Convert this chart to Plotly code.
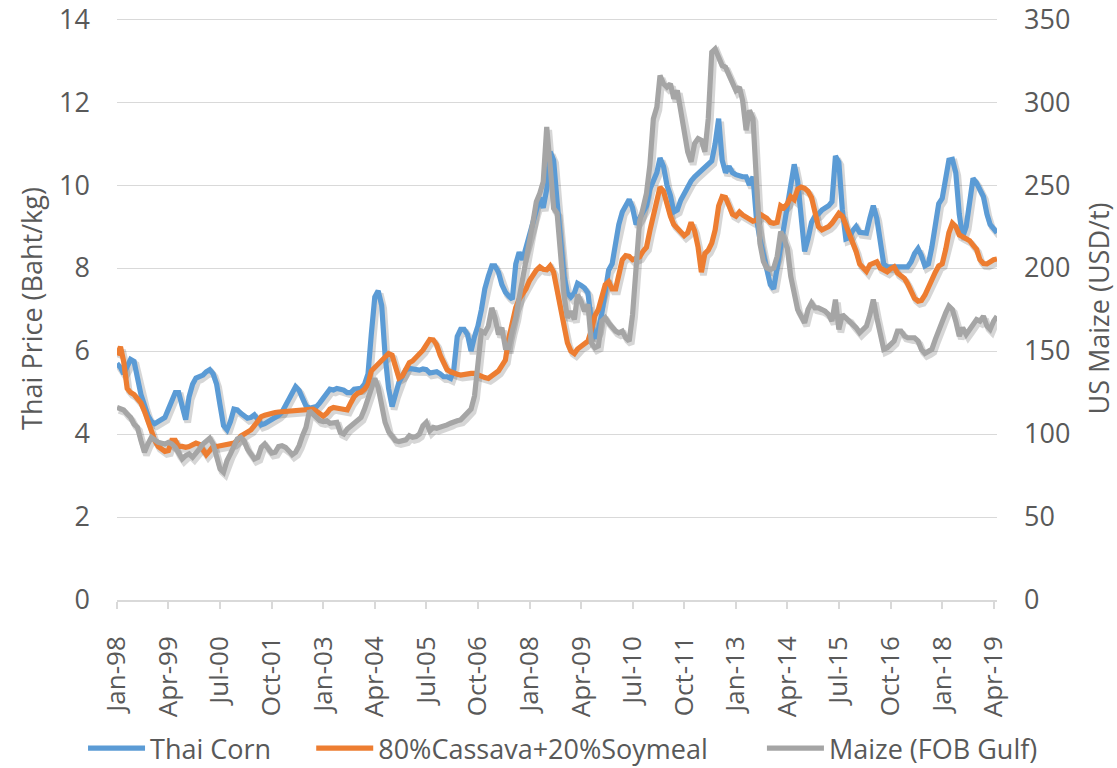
import pandas as pd
import plotly.graph_objects as go

# ---------------- data (monthly, Jan-1998 .. May-2019) ----------------
START_MONTH = "1998-01-01"

THAI_CORN = [
    5.7, 5.6, 5.45, 5.6, 5.8, 5.75, 5.35, 4.95, 4.7, 4.45, 4.3, 4.25,          # 1998
    4.3, 4.35, 4.4, 4.6, 4.8, 5.0, 5.0, 4.7, 4.35, 4.9, 5.2, 5.35,              # 1999
    5.38, 5.42, 5.5, 5.55, 5.45, 5.2, 4.7, 4.2, 4.1, 4.3, 4.6, 4.58,            # 2000
    4.5, 4.45, 4.38, 4.4, 4.46, 4.35, 4.22, 4.25, 4.3, 4.33, 4.38, 4.45,        # 2001
    4.53, 4.68, 4.82, 5.0, 5.14, 5.05, 4.88, 4.68, 4.62, 4.63, 4.66, 4.75,      # 2002
    4.88, 5.02, 5.08, 5.06, 5.1, 5.08, 5.06, 5.0, 5.0, 5.08, 5.09, 5.1,         # 2003
    5.2, 5.45, 6.4, 7.3, 7.45, 7.1, 5.9, 5.1, 4.66, 4.95, 5.25, 5.4,            # 2004
    5.55, 5.58, 5.56, 5.55, 5.54, 5.57, 5.55, 5.47, 5.47, 5.5, 5.45, 5.38,      # 2005
    5.38, 5.34, 5.55, 6.35, 6.52, 6.52, 6.4, 6.0, 6.35, 6.6, 7.0, 7.5,          # 2006
    7.8, 8.05, 8.05, 7.9, 7.6, 7.42, 7.32, 7.25, 8.1, 8.38, 8.2, 8.5,           # 2007
    8.9, 9.2, 9.5, 9.7, 9.45, 9.9, 10.8, 10.6, 9.6, 8.6, 7.8, 7.4,              # 2008
    7.3, 7.4, 7.63, 7.58, 7.52, 7.4, 6.7, 6.3, 6.5, 6.9, 7.5, 7.95,             # 2009
    8.1, 8.6, 9.05, 9.35, 9.48, 9.65, 9.45, 9.05, 9.2, 9.35, 9.5, 9.9,          # 2010
    10.1, 10.3, 10.65, 10.45, 10.0, 9.75, 9.35, 9.4, 9.64, 9.8, 9.96, 10.1,     # 2011
    10.2, 10.28, 10.36, 10.45, 10.52, 10.58, 11.0, 11.6, 10.6, 10.3, 10.45, 10.3,  # 2012
    10.25, 10.22, 10.2, 10.2, 10.0, 10.2, 9.2, 8.7, 8.3, 7.95, 7.6, 7.5,        # 2013
    8.0, 8.55, 9.0, 9.6, 10.1, 10.5, 10.1, 9.25, 8.4, 8.7, 9.1, 9.25,           # 2014
    9.3, 9.4, 9.45, 9.5, 9.6, 10.7, 10.55, 9.4, 8.7, 8.73, 8.9, 9.0,            # 2015
    8.86, 8.84, 8.84, 9.2, 9.5, 9.2, 8.6, 8.1, 8.03, 8.03, 8.03, 8.03,          # 2016
    8.03, 8.03, 8.03, 8.15, 8.35, 8.47, 8.3, 8.05, 8.1, 8.5, 9.0, 9.55,         # 2017
    9.68, 10.2, 10.6, 10.62, 10.3, 9.3, 8.75, 9.0, 9.7, 10.16, 10.05, 9.9,      # 2018
    9.72, 9.3, 9.05, 8.95, 8.85,                                                # 2019
]

CASSAVA_SOY = [
    5.9, 6.1, 5.75, 5.1, 5.0, 4.95, 4.85, 4.75, 4.55, 4.3, 4.0, 3.85,           # 1998
    3.7, 3.65, 3.58, 3.6, 3.85, 3.85, 3.7, 3.7, 3.68, 3.7, 3.75, 3.78,          # 1999
    3.75, 3.6, 3.5, 3.6, 3.7, 3.7, 3.72, 3.73, 3.75, 3.76, 3.78, 3.85,          # 2000
    3.95, 4.0, 4.05, 4.1, 4.2, 4.3, 4.42, 4.45, 4.48, 4.5, 4.52, 4.53,          # 2001
    4.54, 4.55, 4.56, 4.56, 4.57, 4.58, 4.59, 4.6, 4.62, 4.6, 4.55, 4.47,       # 2002
    4.43, 4.5, 4.6, 4.64, 4.63, 4.62, 4.6, 4.58, 4.75, 4.9, 4.98, 5.01,         # 2003
    5.08, 5.2, 5.52, 5.6, 5.68, 5.78, 5.86, 5.94, 5.9, 5.62, 5.35, 5.4,         # 2004
    5.6, 5.72, 5.76, 5.84, 5.92, 6.02, 6.15, 6.28, 6.27, 6.15, 5.9, 5.7,        # 2005
    5.55, 5.5, 5.46, 5.44, 5.42, 5.44, 5.46, 5.46, 5.46, 5.42, 5.38, 5.36,      # 2006
    5.34, 5.4, 5.46, 5.52, 5.65, 5.78, 6.3, 6.7, 7.05, 7.25, 7.38, 7.5,         # 2007
    7.7, 7.85, 7.95, 8.03, 7.97, 7.96, 8.05, 7.9, 7.45, 6.95, 6.6, 6.2,         # 2008
    6.0, 5.94, 6.05, 6.12, 6.16, 6.24, 6.5, 6.85, 7.0, 7.3, 7.6, 7.67,          # 2009
    7.5, 7.5, 7.9, 8.2, 8.3, 8.28, 8.2, 8.22, 8.27, 8.4, 8.5, 8.9,              # 2010
    9.25, 9.55, 9.95, 9.85, 9.5, 9.25, 9.05, 8.95, 8.84, 8.78, 8.85, 9.1,       # 2011
    8.9, 8.5, 7.9, 8.35, 8.43, 8.6, 8.92, 9.5, 9.72, 9.7, 9.5, 9.3,             # 2012
    9.25, 9.35, 9.28, 9.24, 9.17, 9.13, 9.15, 9.3, 9.25, 9.2, 9.1, 9.08,        # 2013
    9.1, 9.5, 9.45, 9.55, 9.72, 9.65, 9.9, 9.95, 9.92, 9.85, 9.7, 9.3,          # 2014
    9.0, 8.92, 8.95, 9.0, 9.08, 9.2, 9.32, 9.25, 9.05, 8.85, 8.6, 8.4,          # 2015
    8.1, 8.0, 7.92, 8.08, 8.13, 8.15, 8.0, 7.95, 7.91, 7.98, 8.03, 7.88,        # 2016
    7.8, 7.75, 7.62, 7.45, 7.27, 7.2, 7.22, 7.35, 7.55, 7.75, 7.9, 8.05,        # 2017
    8.1, 8.45, 8.85, 9.08, 9.0, 8.8, 8.75, 8.72, 8.66, 8.55, 8.45, 8.2,         # 2018
    8.11, 8.1, 8.15, 8.2, 8.22,                                                 # 2019
]

MAIZE_FOB_GULF = [
    116, 115, 114.5, 112, 110, 106, 104, 96, 89, 94, 98, 96.5,                  # 1998
    95, 94.5, 94, 95, 94, 92, 88, 85, 87, 88, 86, 88,                           # 1999
    91, 94, 96, 97.5, 94, 87, 79, 77, 84, 88, 92, 97,                           # 2000
    98, 95.5, 91, 88, 85, 86, 92, 94, 91, 88.5, 89, 92.5,                       # 2001
    93, 92, 90, 87.5, 89, 93, 99, 104, 114, 112, 109.5, 108,                    # 2002
    107.5, 108, 106.5, 107, 107, 101, 100, 103, 105, 106.5, 108, 110,           # 2003
    115, 122, 129, 133.5, 128, 119, 107, 101.5, 99, 96, 95.5, 96,               # 2004
    96.5, 99, 98, 98.5, 100, 105, 107, 102, 104, 103.5, 104, 105,               # 2005
    105.5, 106.5, 107.5, 108, 108.5, 110.5, 112.5, 115, 123, 142, 162, 161,     # 2006
    165, 176, 170, 160, 164, 152, 152, 162, 170, 182, 193, 203,                 # 2007
    213, 228, 240, 245, 252, 285, 262, 236, 233, 206, 184, 170,                 # 2008
    174, 169, 184, 180, 174, 178, 155, 152, 153, 168, 170, 167,                 # 2009
    164, 162, 161, 162, 158, 156, 172, 200, 228, 236, 245, 262,                 # 2010
    290, 297, 316, 311, 309, 311, 302, 307, 295, 283, 270, 264,                 # 2011
    275, 278, 277, 270, 290, 330, 332, 327, 322, 321, 316, 310,                 # 2012
    307, 309, 301, 283, 295, 290, 250, 215, 204, 200, 199, 200,                 # 2013
    207, 222, 218, 212, 195, 185, 175, 171, 167, 175, 179, 176,                 # 2014
    176, 175, 174, 172, 168, 181, 163, 172, 170, 169, 166, 164,                 # 2015
    161, 163, 165, 172, 181, 170, 160, 151, 152, 154, 156, 162,                 # 2016
    162, 159, 158, 158, 158, 156, 151, 148.6, 149.6, 151, 157, 163,             # 2017
    168, 173, 177, 175, 168, 159, 164, 160, 163, 166, 169, 168,                 # 2018
    171, 165, 163, 168, 171,                                                    # 2019
]

TICK_LABELS = ["Jan-98", "Apr-99", "Jul-00", "Oct-01", "Jan-03", "Apr-04",
               "Jul-05", "Oct-06", "Jan-08", "Apr-09", "Jul-10", "Oct-11",
               "Jan-13", "Apr-14", "Jul-15", "Oct-16", "Jan-18", "Apr-19"]

SERIES_NAMES = ["Thai Corn", "80%Cassava+20%Soymeal", "Maize (FOB Gulf)"]
SERIES_COLORS = ["#5B9BD5", "#ED7D31", "#A5A5A5"]

# ---------------- figure ----------------
months = pd.date_range(START_MONTH, periods=len(THAI_CORN), freq="MS")
tick_dates = pd.date_range(START_MONTH, periods=len(TICK_LABELS), freq="15MS")

TEXT = "#595959"
GRID = "#D9D9D9"
FONT = "Open Sans"
FS = 27
LW = 5.2

Y_MAX = 14.05                 # left axis (Baht/kg), 0..14 shown
Y2_MAX = 350 * Y_MAX / 14     # right axis (USD/t), 0..350 shown

# soft drop-shadow (Excel style) drawn through slightly shifted hidden axes
SH_DX = pd.Timedelta(days=18)          # ~2 px to the right
SH_DY = 3.0 / 41.5                     # ~3 px down (left-axis units)
SH_COLOR = "rgba(0,0,0,0.16)"

fig = go.Figure()

# shadows (hidden axes: x / y / y3)
fig.add_trace(go.Scatter(x=months, y=THAI_CORN, mode="lines", showlegend=False,
                         hoverinfo="skip", line=dict(color=SH_COLOR, width=LW + 1.5),
                         xaxis="x", yaxis="y"))
fig.add_trace(go.Scatter(x=months, y=CASSAVA_SOY, mode="lines", showlegend=False,
                         hoverinfo="skip", line=dict(color=SH_COLOR, width=LW + 1.5),
                         xaxis="x", yaxis="y"))
fig.add_trace(go.Scatter(x=months, y=MAIZE_FOB_GULF, mode="lines", showlegend=False,
                         hoverinfo="skip", line=dict(color=SH_COLOR, width=LW + 1.5),
                         xaxis="x", yaxis="y3"))

# visible series (axes: x2 / y2 left / y4 right)
fig.add_trace(go.Scatter(x=months, y=THAI_CORN, name=SERIES_NAMES[0] + "\u00a0" * 5,
                         mode="lines", line=dict(color=SERIES_COLORS[0], width=LW),
                         xaxis="x2", yaxis="y2"))
fig.add_trace(go.Scatter(x=months, y=CASSAVA_SOY, name=SERIES_NAMES[1] + "\u00a0" * 7,
                         mode="lines", line=dict(color=SERIES_COLORS[1], width=LW),
                         xaxis="x2", yaxis="y2"))
fig.add_trace(go.Scatter(x=months, y=MAIZE_FOB_GULF, name=SERIES_NAMES[2],
                         mode="lines", line=dict(color=SERIES_COLORS[2], width=LW),
                         xaxis="x2", yaxis="y4"))

hidden = dict(visible=False, showgrid=False, zeroline=False)

fig.update_layout(
    width=1117, height=768,
    margin=dict(l=117, r=120, t=17, b=168, autoexpand=False),
    paper_bgcolor="white", plot_bgcolor="white",
    font=dict(family=FONT, size=FS, color=TEXT),
    showlegend=True,
    legend=dict(orientation="h", xref="paper", yref="paper",
                x=-0.0386, y=-0.255, xanchor="left", yanchor="middle",
                font=dict(family=FONT, size=FS, color=TEXT),
                itemwidth=57, bgcolor="rgba(0,0,0,0)"),
    # hidden, shifted axes for the shadow
    xaxis=dict(range=[months[0] - SH_DX, months[-1] - SH_DX], **hidden),
    yaxis=dict(range=[SH_DY, Y_MAX + SH_DY], **hidden),
    yaxis3=dict(range=[SH_DY * 25, Y2_MAX + SH_DY * 25], overlaying="y", **hidden),
    # visible axes
    xaxis2=dict(
        overlaying="x", anchor="y2", side="bottom",
        range=[months[0], months[-1]],
        tickmode="array", tickvals=tick_dates, ticktext=TICK_LABELS,
        tickangle=-90, ticks="outside", ticklen=7, tickcolor=GRID, tickwidth=1.5,
        ticklabelstandoff=17, ticklabeloverflow="allow",
        showline=True, linecolor=GRID, linewidth=1.5,
        showgrid=False, zeroline=False,
        tickfont=dict(family=FONT, size=26, color=TEXT),
    ),
    yaxis2=dict(
        overlaying="y", anchor="x2", side="left",
        range=[0, Y_MAX], dtick=2, tick0=0,
        showgrid=True, gridcolor=GRID, gridwidth=1.2,
        zeroline=False, showline=False, ticks="",
        ticklabelstandoff=26, ticklabeloverflow="allow",
        tickfont=dict(family=FONT, size=FS, color=TEXT),
        title=dict(text="Thai Price (Baht/kg)", standoff=8,
                   font=dict(family=FONT, size=FS, color=TEXT)),
    ),
    yaxis4=dict(
        overlaying="y", anchor="x2", side="right",
        range=[0, Y2_MAX], dtick=50, tick0=0,
        showgrid=False, zeroline=False, showline=False, ticks="",
        ticklabelstandoff=26, ticklabeloverflow="allow",
        tickfont=dict(family=FONT, size=FS, color=TEXT),
        title=dict(text="US Maize (USD/t)", standoff=20,
                   font=dict(family=FONT, size=FS, color=TEXT)),
    ),
)

fig.write_html("out.html", config={"displayModeBar": False},
               post_script="document.body.style.margin='0px';")
